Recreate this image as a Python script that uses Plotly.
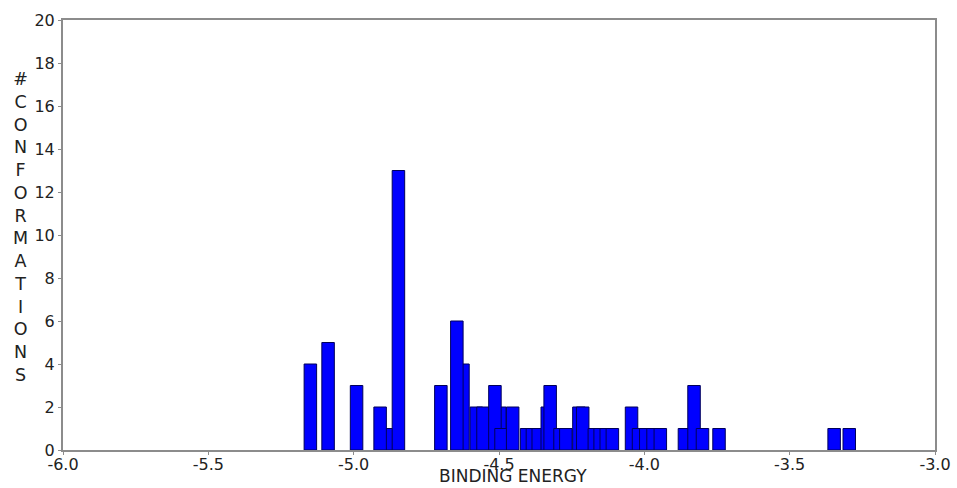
import plotly.graph_objects as go

# Cluster lowest binding energies (drawing order) and number of conformations
energies = [-5.149, -5.088, -4.990, -4.888, -4.909, -4.846,
            -4.700, -4.624, -4.645, -4.578, -4.555, -4.497, -4.514, -4.493,
            -4.453, -4.405, -4.385, -4.365, -4.334, -4.324, -4.290, -4.270,
            -4.225, -4.212, -4.172, -4.152, -4.131, -4.110,
            -4.044, -4.020, -3.995, -3.970, -3.945,
            -3.862, -3.829, -3.800, -3.743, -3.347, -3.295]
counts = [4, 5, 3, 1, 2, 13,
          3, 4, 6, 2, 2, 2, 3, 1,
          2, 1, 1, 1, 2, 3, 1, 1,
          2, 2, 1, 1, 1, 1,
          2, 1, 1, 1, 1,
          1, 3, 1, 1, 1, 1]

x_ticks = [-6.0, -5.5, -5.0, -4.5, -4.0, -3.5, -3.0]
x_tick_labels = ["-6.0", "-5.5", "-5.0", "-4.5", "-4.0", "-3.5", "-3.0"]
y_ticks = [0, 2, 4, 6, 8, 10, 12, 14, 16, 18, 20]
y_title = "#CONFORMATIONS"
x_title = "BINDING ENERGY"

fig = go.Figure()
fig.add_trace(go.Bar(
    x=energies, y=counts, width=0.043,
    marker=dict(color="#0000ff", line=dict(color="#00005a", width=1)),
))

FONT = "DejaVu Sans, Liberation Sans, Arial, sans-serif"
axis_font = dict(family=FONT, size=16, color="#222222")

fig.update_layout(
    width=957, height=488,
    margin=dict(l=63, r=22, t=20, b=38),
    paper_bgcolor="white", plot_bgcolor="white",
    barmode="overlay", showlegend=False,
    font=axis_font,
    xaxis=dict(range=[-6.0, -3.0], tickvals=x_ticks, ticktext=x_tick_labels,
               automargin=False, ticklabelstandoff=-4,
               showgrid=False, zeroline=False, showline=True, mirror=True,
               linecolor="#8c8c8c", linewidth=2, ticks="outside", ticklen=3,
               tickcolor="#8c8c8c", tickfont=axis_font),
    yaxis=dict(range=[0, 20], tickvals=y_ticks, automargin=False,
               showgrid=False, zeroline=False,
               showline=True, mirror=True, linecolor="#8c8c8c", linewidth=2,
               ticks="outside", ticklen=3, tickcolor="#8c8c8c",
               tickfont=axis_font),
    annotations=[
        dict(text="<br>".join(list(y_title)), xref="paper", yref="paper",
             x=(20 - 63) / 872, y=(450 - 227) / 430, xanchor="center", yanchor="middle",
             showarrow=False, align="center",
             font=dict(family=FONT, size=17.5, color="#222222")),
        dict(text=x_title, xref="paper", yref="paper",
             x=(513 - 63) / 872, y=-38 / 430, xanchor="center", yanchor="bottom",
             showarrow=False,
             font=dict(family=FONT, size=17, color="#222222")),
    ],
)

fig.write_html("out.html", config={"displayModeBar": False},
               post_script="document.body.style.margin='0';document.body.style.overflow='hidden';")
